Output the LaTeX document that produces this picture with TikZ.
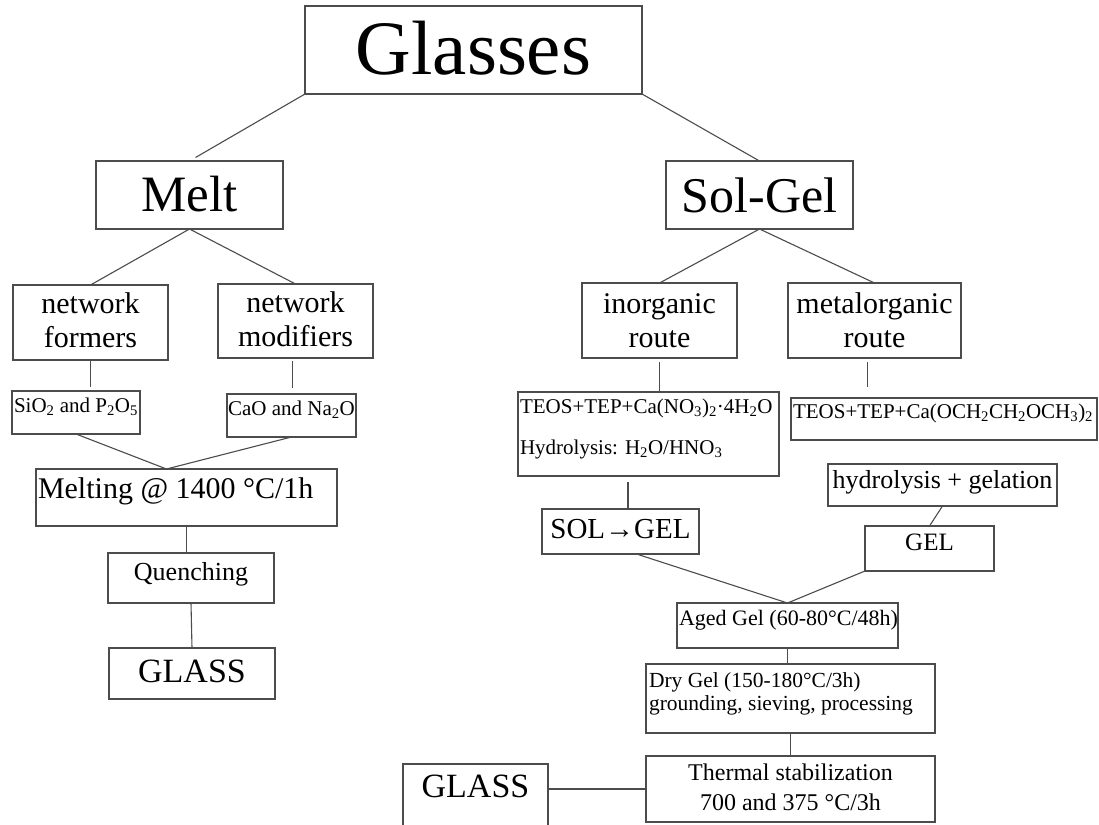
\documentclass[tikz,border=0pt]{standalone}
\usepackage{fontspec}
\setmainfont{Liberation Serif}
\usepackage{tikz}
\usetikzlibrary{positioning}

\newcommand{\sz}[2]{\fontsize{#1pt}{#2pt}\selectfont}
\newcommand{\rows}[2][c]{\begin{tabular}[t]{@{}#1@{}}#2\end{tabular}}

\begin{document}
\begin{tikzpicture}[x=1pt, y=-1pt,
    block/.style = {draw=black!70, line width=1.2pt, inner sep=0pt, outer sep=0pt},
    link/.style = {draw=black!70, line width=1.1pt}]
        \clip (0,0) rectangle (1099,824);
        \fill[white] (0,0) rectangle (1099,824);
        % Nodes
        \node[block, minimum width=337pt, minimum height=88pt, text height=52pt, text depth=2pt, font={\sz{77}{80}}] (glasses) at (473.5,50) {Glasses};
        \node[block, minimum width=187pt, minimum height=68pt, text height=34pt, text depth=2pt, font={\sz{51}{54}}] (melt) at (189.5,195) {Melt};
        \node[block, minimum width=187pt, minimum height=68pt, text height=34pt, text depth=0pt, font={\sz{50}{54}}] (solgel) at (759.5,195) {Sol-Gel};
        \node[block, minimum width=155pt, minimum height=75pt, text height=21pt, text depth=40pt, font={\sz{30}{34}}] (formers) at (90.5,322.5) {\rows{network\\formers}};
        \node[block, minimum width=155pt, minimum height=74pt, text height=21pt, text depth=39pt, font={\sz{30}{34}}] (modifiers) at (295.5,321) {\rows{network\\modifiers}};
        \node[block, minimum width=155pt, minimum height=75pt, text height=21pt, text depth=36pt, font={\sz{30}{34}}] (inorganic) at (659.5,320.5) {\rows{inorganic\\route}};
        \node[block, minimum width=173pt, minimum height=75pt, text height=21pt, text depth=36pt, font={\sz{30}{34}}] (metal) at (874.5,320.5) {\rows{metalorganic\\route}};
        \node[block, minimum width=128pt, minimum height=43pt, text height=15pt, text depth=16pt, font={\sz{21}{24}}] (sio2) at (76,412.5) {\makebox[124pt][l]{SiO\textsubscript{2} and P\textsubscript{2}O\textsubscript{5}}};
        \node[block, minimum width=129pt, minimum height=43pt, text height=15pt, text depth=16pt, font={\sz{21}{24}}] (cao) at (291.5,415.5) {CaO and Na\textsubscript{2}O};
        \node[block, minimum width=301pt, minimum height=57pt, text height=21pt, text depth=20pt, font={\sz{30}{34}}] (melting) at (186.5,497.5) {\makebox[297pt][l]{Melting @ 1400 °C/1h}};
        \node[block, minimum width=166pt, minimum height=50pt, text height=18pt, text depth=14pt, font={\sz{26}{30}}] (quench) at (191,578) {Quenching};
        \node[block, minimum width=166pt, minimum height=51pt, text height=23pt, text depth=6pt, font={\sz{34}{38}}] (glassm) at (192,673.5) {GLASS};
        \node[block, minimum width=261pt, minimum height=84pt, text height=15pt, text depth=57pt, font={\sz{21}{41}}] (teosi) at (648.5,434) {\makebox[257pt][l]{\rows[l]{TEOS+TEP+Ca(NO\textsubscript{3})\textsubscript{2}·4H\textsubscript{2}O\\Hydrolysis: H\textsubscript{2}O/HNO\textsubscript{3}}}};
        \node[block, minimum width=306pt, minimum height=42pt, text height=15pt, text depth=17pt, font={\sz{21}{24}}] (teosm) at (944,419) {\makebox[302pt][l]{TEOS+TEP+Ca(OCH\textsubscript{2}CH\textsubscript{2}OCH\textsubscript{3})\textsubscript{2}}};
        \node[block, minimum width=229pt, minimum height=42pt, text height=18pt, text depth=12pt, font={\sz{26}{30}}] (hydro) at (942.5,485) {hydrolysis + gelation};
        \node[block, minimum width=157pt, minimum height=45pt, text height=20pt, text depth=7pt, font={\sz{29}{33}}] (solgel2) at (620.5,531.5) {SOL→GEL};
        \node[block, minimum width=129pt, minimum height=45pt, text height=17pt, text depth=14pt, font={\sz{25}{29}}] (gel) at (929.5,548.5) {GEL};
        \node[block, minimum width=221pt, minimum height=45pt, text height=15pt, text depth=16pt, font={\sz{22}{25}}] (aged) at (787.5,625.5) {\makebox[217pt][l]{Aged Gel (60-80°C/48h)}};
        \node[block, minimum width=289pt, minimum height=69pt, text height=15pt, text depth=38pt, font={\sz{21.5}{23}}] (dry) at (790.5,698.5) {\makebox[283pt][l]{\rows[l]{Dry Gel (150-180°C/3h)\\grounding, sieving, processing}}};
        \node[block, minimum width=289pt, minimum height=66pt, text height=17pt, text depth=35pt, font={\sz{24}{30}}] (thermal) at (790.5,789) {\rows{Thermal stabilization\\700 and 375 °C/3h}};
        \node[block, minimum width=145pt, minimum height=70pt, text height=23pt, text depth=27pt, font={\sz{34}{38}}] (glassb) at (475.5,799) {GLASS};
        % Edges
        \draw[link, shorten >=7pt] (glasses.south west) -- (melt.north);
        \draw[link] (glasses.south east) -- (solgel.north);
        \draw[link] (melt.south) -- (formers.north);
        \draw[link] (melt.south) -- (modifiers.north);
        \draw[link, shorten >=4pt] (formers.south) -- (formers.south |- sio2.north);
        \draw[link, shorten <=3pt, shorten >=6pt] ([xshift=-3pt]modifiers.south) -- ([xshift=-3pt]modifiers.south |- cao.north);
        \draw[link] (sio2.south) -- ([xshift=-20pt]melting.north);
        \draw[link] (cao.south) -- ([xshift=-20pt]melting.north);
        \draw[link] (melting.south) -- (melting.south |- quench.north);
        \draw[link] (quench.south) -- (glassm.north);
        \draw[link] (solgel.south) -- (inorganic.north);
        \draw[link] (solgel.south) -- (metal.north);
        \draw[link, shorten <=4pt] (inorganic.south) -- (inorganic.south |- teosi.north);
        \draw[link, shorten <=4pt, shorten >=11pt] ([xshift=-7pt]metal.south) -- ([xshift=-7pt]metal.south |- teosm.north);
        \draw[link] (hydro.south) -- (gel.north);
        \draw[link, shorten <=6pt] ([xshift=7.5pt]solgel2.north |- teosi.south) -- ([xshift=7.5pt]solgel2.north);
        \draw[link] ([xshift=16pt]solgel2.south) -- (aged.north);
        \draw[link] (gel.south west) -- (aged.north);
        \draw[link] (aged.south) -- (aged.south |- dry.north);
        \draw[link] (dry.south) -- (thermal.north);
        \draw[link] (thermal.west) -- (thermal.west -| glassb.east);
    \end{tikzpicture}
\end{document}
